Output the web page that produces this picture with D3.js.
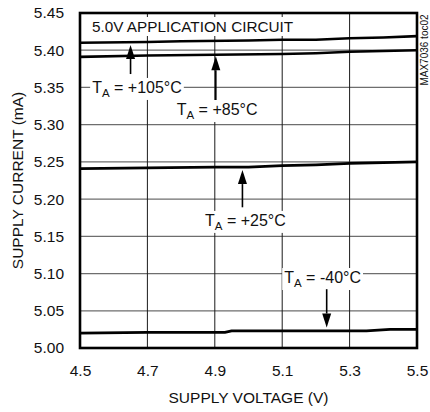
<!DOCTYPE html>
<html>
<head>
<meta charset="utf-8">
<script src="https://cdn.jsdelivr.net/npm/d3@7"></script>
<style>
  html, body { margin: 0; padding: 0; background: #fff; }
  svg { display: block; font-family: "Liberation Sans", Arial, sans-serif; }
</style>
</head>
<body>
<svg id="chart" width="430" height="412"></svg>
<script>
// Supply voltage sample points (V) and supply current (mA) per ambient temperature
const voltage105 = [4.5, 4.7, 4.8, 5.0, 5.1, 5.2, 5.25, 5.3, 5.4, 5.5];
const current105 = [5.410, 5.411, 5.412, 5.413, 5.414, 5.414, 5.415, 5.416, 5.417, 5.419];

const voltage85 = [4.5, 4.7, 4.9, 5.1, 5.2, 5.3, 5.5];
const current85 = [5.391, 5.393, 5.394, 5.395, 5.396, 5.398, 5.400];

const voltage25 = [4.5, 4.7, 4.9, 5.0, 5.05, 5.1, 5.2, 5.3, 5.4, 5.5];
const current25 = [5.241, 5.242, 5.243, 5.243, 5.244, 5.245, 5.246, 5.248, 5.249, 5.250];

const voltageM40 = [4.5, 4.7, 4.93, 4.95, 5.2, 5.35, 5.42, 5.5];
const currentM40 = [5.020, 5.021, 5.021, 5.023, 5.023, 5.023, 5.025, 5.025];

const xTicks = [4.5, 4.7, 4.9, 5.1, 5.3, 5.5];
const yTicks = [5.00, 5.05, 5.10, 5.15, 5.20, 5.25, 5.30, 5.35, 5.40, 5.45];

// Temperature callouts: label text, arrow column, arrow tip/tail currents, label anchor
const calloutTemps = ["+105°C", "+85°C", "+25°C", "-40°C"];
const calloutArrowX = [4.65, 4.903, 4.982, 5.232];
const calloutTip = [5.407, 5.392, 5.239, 5.0275];
const calloutTail = [5.368, 5.333, 5.189, 5.079];
const calloutTextX = [4.536, 4.787, 4.871, 5.106];
const calloutTextY = [5.3426, 5.313, 5.164, 5.0873];

const titleText = "5.0V APPLICATION CIRCUIT";
const xTitle = "SUPPLY VOLTAGE (V)";
const yTitle = "SUPPLY CURRENT (mA)";
const sideNote = "MAX7036 toc02";

const svg = d3.select("#chart");
const margin = { left: 80, right: 13, top: 13, bottom: 64 };
const W = 430, H = 412;

const x = d3.scaleLinear().domain([4.5, 5.5]).range([margin.left, W - margin.right]);
const y = d3.scaleLinear().domain([5.00, 5.45]).range([H - margin.bottom, margin.top]);

// Grid
const grid = svg.append("g");
grid.selectAll("line.h").data(yTicks.slice(1, -1)).join("line")
  .attr("x1", x(4.5)).attr("x2", x(5.5))
  .attr("y1", d => y(d)).attr("y2", d => y(d))
  .attr("stroke", "#6e6e6e").attr("stroke-width", 1.3);
grid.selectAll("line.v").data(xTicks.slice(1, -1)).join("line")
  .attr("x1", d => x(d)).attr("x2", d => x(d))
  .attr("y1", y(5.0)).attr("y2", y(5.45))
  .attr("stroke", "#1a1a1a").attr("stroke-width", 1);

// Axes (labels only)
const fs = 15.5;
const yAxis = svg.append("g").attr("transform", `translate(${margin.left},0)`)
  .call(d3.axisLeft(y).tickValues(yTicks).tickFormat(d3.format(".2f")).tickSize(0).tickPadding(16));
const xAxis = svg.append("g").attr("transform", `translate(0,${H - margin.bottom})`)
  .call(d3.axisBottom(x).tickValues(xTicks).tickFormat(d3.format(".1f")).tickSize(0).tickPadding(17));
[xAxis, yAxis].forEach(a => {
  a.select(".domain").remove();
  a.selectAll("text").attr("font-size", fs).attr("fill", "#111")
    .attr("font-family", "'Liberation Sans', Arial, sans-serif");
});

// Curves
const series = [
  [voltage105, current105],
  [voltage85, current85],
  [voltage25, current25],
  [voltageM40, currentM40]
];
const line = d3.line().x(d => x(d[0])).y(d => y(d[1]));
svg.append("g").selectAll("path").data(series).join("path")
  .attr("d", s => line(s[0].map((v, i) => [v, s[1][i]])))
  .attr("fill", "none").attr("stroke", "#000").attr("stroke-width", 2.6)
  .attr("stroke-linejoin", "round");

// Labels with white backing that interrupts the grid
function boxedText(g, tx, ty, build) {
  const t = g.append("text").attr("x", tx).attr("y", ty)
    .attr("font-size", 16).attr("fill", "#111");
  build(t);
  const b = t.node().getBBox();
  g.insert("rect", "text")
    .attr("x", b.x - 2).attr("y", b.y - 1)
    .attr("width", b.width + 4).attr("height", b.height + 2)
    .attr("fill", "#fff");
  return t;
}

// Title
const titleG = svg.append("g");
boxedText(titleG, x(4.5) + 12, y(5.45) + 19, t => t.attr("font-size", 15.3).text(titleText));

// Callouts
const ann = svg.append("g");
calloutTemps.forEach((temp, i) => {
  const g = ann.append("g");
  boxedText(g, x(calloutTextX[i]), y(calloutTextY[i]), t => {
    t.append("tspan").text("T");
    t.append("tspan").attr("font-size", 11.5).attr("dy", 4).text("A");
    t.append("tspan").attr("dy", -4).text(" = " + temp);
  });
  const ax = x(calloutArrowX[i]);
  const yTip = y(calloutTip[i]);
  const yTail = y(calloutTail[i]);
  const dir = yTip < yTail ? 1 : -1; // 1: arrow points up
  const headLen = 14, headW = 4.5;
  const yBase = yTip + dir * headLen;
  g.append("line")
    .attr("x1", ax).attr("x2", ax).attr("y1", yTail).attr("y2", yBase)
    .attr("stroke", "#000").attr("stroke-width", 1.6);
  g.append("path")
    .attr("d", `M${ax},${yTip}L${ax - headW},${yBase}L${ax + headW},${yBase}Z`)
    .attr("fill", "#000");
});

// Plot frame
svg.append("rect")
  .attr("x", x(4.5)).attr("y", y(5.45))
  .attr("width", x(5.5) - x(4.5)).attr("height", y(5.0) - y(5.45))
  .attr("fill", "none").attr("stroke", "#000").attr("stroke-width", 2.6);

// Axis titles
svg.append("text")
  .attr("x", (x(4.5) + x(5.5)) / 2).attr("y", 403)
  .attr("text-anchor", "middle").attr("font-size", fs).attr("fill", "#111")
  .text(xTitle);
svg.append("text")
  .attr("transform", `translate(23,${(y(5.0) + y(5.45)) / 2}) rotate(-90)`)
  .attr("text-anchor", "middle").attr("font-size", fs).attr("fill", "#111")
  .text(yTitle);

// Figure reference
svg.append("text")
  .attr("transform", `translate(428,50) rotate(-90)`)
  .attr("text-anchor", "middle").attr("font-size", 10).attr("fill", "#111")
  .text(sideNote);
</script>
</body>
</html>
